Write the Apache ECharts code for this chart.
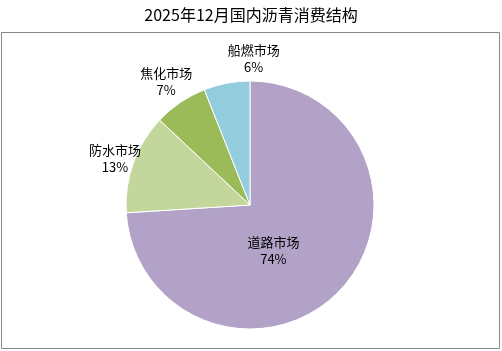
<!DOCTYPE html>
<html>
<head>
<meta charset="utf-8">
<script src="https://cdn.jsdelivr.net/npm/echarts@6/dist/echarts.min.js"></script>
<style>
  html, body { margin: 0; padding: 0; background: #fff; }
  #main { width: 502px; height: 351px; }
</style>
</head>
<body>
<div id="main"></div>
<script>
// 消费结构数据
const categories = ['道路市场', '防水市场', '焦化市场', '船燃市场'];
const shares = [74, 13, 7, 6];
const colors = ['#B2A2C7', '#C3D69B', '#9BBB59', '#93CDDD'];

const font = '"Noto Sans CJK SC", "Microsoft YaHei", sans-serif';

let myChart = echarts.init(document.getElementById('main'));

const pieData = categories.map((name, i) => ({
  name: name,
  value: shares[i],
  itemStyle: { color: colors[i] }
}));

// 外部标签的微调（仿 Excel 的摆放）
const outerShift = [null, { dx: 7, dy: 5 }, { dx: 1, dy: 1 }, { dx: 32, dy: 2 }];

let option = {
  animation: false,
  title: {
    text: '2025年12月国内沥青消费结构',
    left: 'center',
    top: 2,
    textStyle: { fontFamily: font, fontSize: 16, fontWeight: 'normal', color: '#000' }
  },
  graphic: [{
    type: 'rect',
    shape: { x: 1.5, y: 32.5, width: 498, height: 316 },
    style: { fill: 'none', stroke: '#888', lineWidth: 1 },
    silent: true
  }],
  series: [
    {
      // 饼图本体，只给道路市场放内部标签
      type: 'pie',
      center: [250, 205],
      radius: [0, 124],
      startAngle: 90,
      clockwise: true,
      silent: true,
      itemStyle: { borderColor: '#fff', borderWidth: 1 },
      label: {
        show: true,
        position: 'inside',
        formatter: p => p.dataIndex === 0 ? p.name + '\n' + p.value + '%' : '',
        fontFamily: font, fontSize: 13, lineHeight: 17, color: '#000'
      },
      labelLayout: p => p.dataIndex === 0 ? { dx: -24, dy: 1 } : {},
      labelLine: { show: false },
      data: pieData
    },
    {
      // 透明外圈，用来摆放外部标签
      type: 'pie',
      center: [250, 205],
      radius: [136, 160],
      startAngle: 90,
      clockwise: true,
      silent: true,
      itemStyle: { color: 'rgba(0,0,0,0)' },
      label: {
        show: true,
        position: 'inside',
        formatter: p => p.dataIndex === 0 ? '' : p.name + '\n' + p.value + '%',
        fontFamily: font, fontSize: 13, lineHeight: 17, color: '#000'
      },
      labelLayout: p => outerShift[p.dataIndex] || {},
      labelLine: { show: false },
      data: categories.map((name, i) => ({ name: name, value: shares[i] }))
    }
  ]
};

myChart.setOption(option);
</script>
</body>
</html>
